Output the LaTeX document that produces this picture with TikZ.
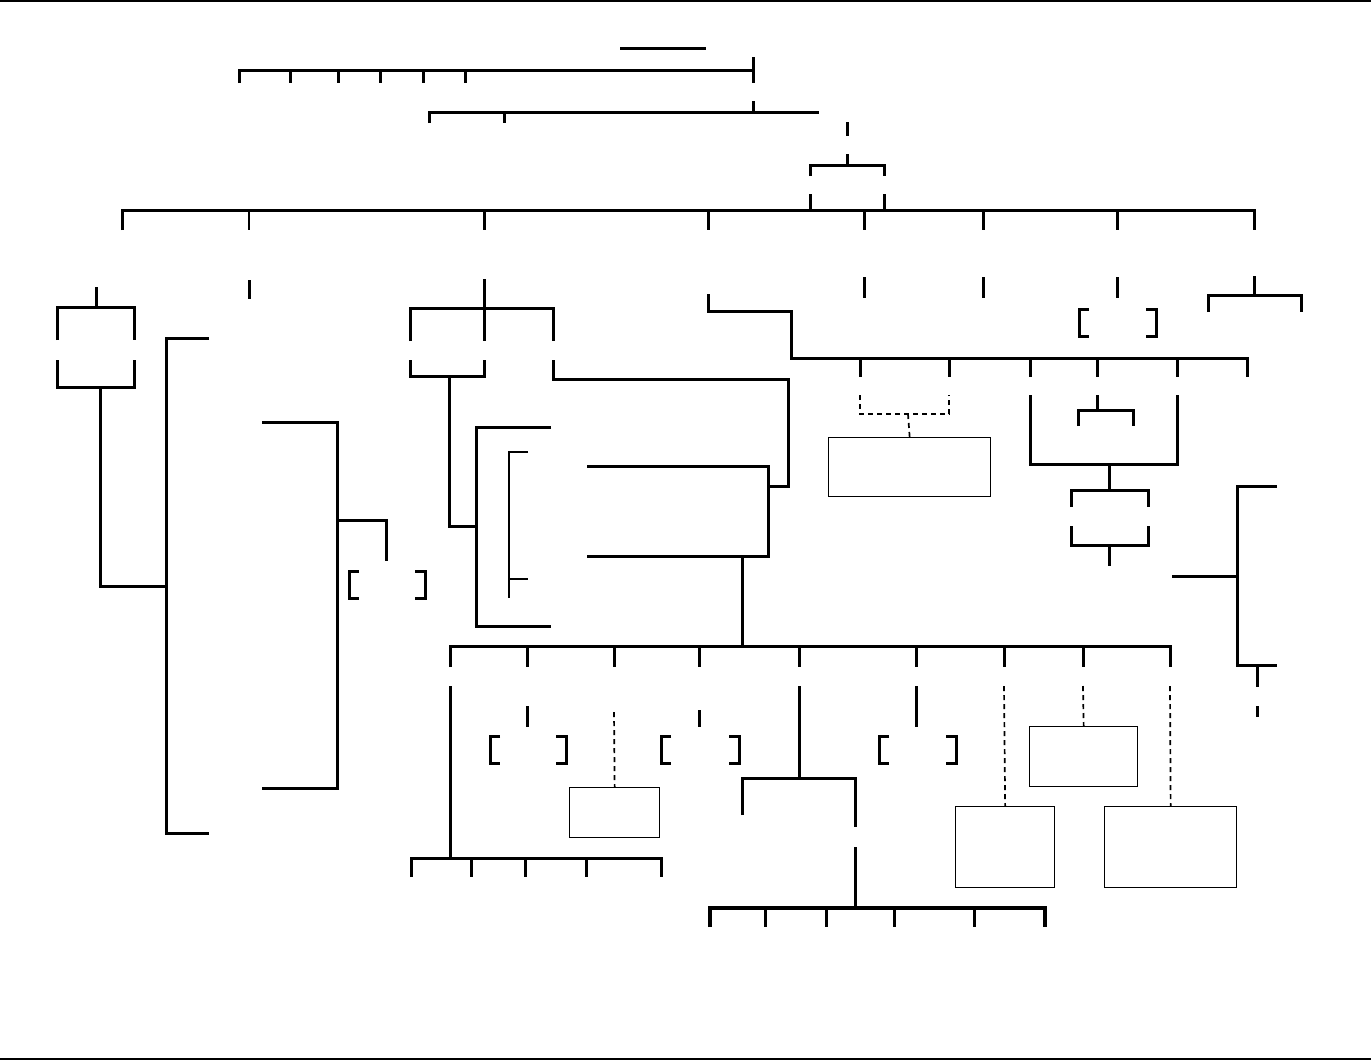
\documentclass[tikz,border=0pt]{standalone}
\usetikzlibrary{positioning}

\begin{document}
\begin{tikzpicture}[x=1pt, y=-1pt,
  tree/.style={line width=3pt},
  faint/.style={line width=1.2pt},
  link/.style={line width=1.7pt, dash pattern=on 5pt off 4pt},
  blank/.style={draw, line width=1.3pt, inner sep=0pt, anchor=north west}]
\def\bh{27}
\def\bt{10}
\useasboundingbox (0,0) rectangle (1371,1061);

% frame rules
\draw[faint] (0,1) -- (1371,1);
\draw[faint] (0,1059) -- (1371,1059);

% top generations
\draw[tree] (620,48) -- (706,48);
\draw[tree] (239,83) |- (753,70);
\foreach \x in {290,338,380,423,465} \draw[tree] (\x,70) -- (\x,83);
\draw[tree] (753,57) -- (753,83);
\draw[tree] (429,123) |- (819,112);
\draw[tree] (504,112) -- (504,123);
\draw[tree] (753,101) -- (753,112);
\draw[tree] (847,122) -- (847,136);
\draw[tree] (847,154) -- (847,165);
\draw[tree] (810,176) |- (884,165) -- (884,176);
\draw[tree] (810,194) -- (810,210);
\draw[tree] (884,194) -- (884,210);

% main line
\draw[tree] (122,230) |- (1254,210) -- (1254,230);
\foreach \x in {484,708,864,983,1117} \draw[tree] (\x,210) -- (\x,230);
\draw[faint] (249,210) -- (249,230);

% brackets
\foreach \l/\r/\t in {349/425/571, 1079/1156/309, 490/566/736, 661/739/736, 879/956/736} {
  \draw[tree] (\l+\bt,\t) -| (\l,\t+\bh) -- (\l+\bt,\t+\bh);
  \draw[tree] (\r-\bt,\t) -| (\r,\t+\bh) -- (\r-\bt,\t+\bh);
}

% left branch
\draw[tree] (96,287) -- (96,307);
\draw[tree] (57,340) |- (134,307) -- (134,340);
\draw[tree] (57,360) |- (134,387) -- (134,360);
\draw[tree] (100,387) |- (166,586);
\draw[tree] (209,338) -| (166,833) -- (209,833);
\draw[tree] (249,280) -- (249,299);
\draw[tree] (262,422) -| (337,788) -- (262,788);
\draw[tree] (337,520) -| (386,561);

% middle branch
\draw[tree] (484,279) -- (484,341);
\draw[tree] (410,341) |- (553,308) -- (553,341);
\draw[tree] (410,360) |- (484,376) -- (484,360);
\draw[tree] (449,376) |- (476,526);
\draw[tree] (553,360) |- (788,379) |- (768,486);
\draw[tree] (551,427) -| (476,626) -- (551,626);
\draw[faint] (528,452) -| (509,598);
\draw[faint] (509,579) -- (528,579);
\draw[tree] (587,466) -| (768,556) -- (587,556);
\draw[tree] (742,556) -- (742,646);

% right branch
\draw[tree] (708,294) |- (791,311) |- (1247,358) -- (1247,377);
\foreach \x in {860,949,1030,1097,1177} \draw[tree] (\x,358) -- (\x,377);
\foreach \x in {864,983,1117} \draw[tree] (\x,277) -- (\x,298);
\draw[tree] (1254,276) -- (1254,295);
\draw[tree] (1208,312) |- (1301,295) -- (1301,312);
\node[blank, minimum width=162pt, minimum height=59pt] (famA) at (828,437) {};
\draw[link] (860,395) |- (949,414) -- (949,395);
\draw[link] (908,414) -- (famA.north);
\draw[tree] (1030,395) |- (1177,464) -- (1177,395);
\draw[tree] (1097,395) -- (1097,410);
\draw[tree] (1078,426) |- (1133,410) -- (1133,426);
\draw[tree] (1109,464) -- (1109,490);
\draw[tree] (1071,507) |- (1148,490) -- (1148,507);
\draw[tree] (1071,526) |- (1148,545) -- (1148,526);
\draw[tree] (1109,545) -- (1109,566);
\draw[tree] (1277,486) -| (1237,665) -- (1277,665);
\draw[tree] (1172,576) -- (1237,576);
\draw[tree] (1257,665) -- (1257,687);
\draw[tree] (1257,706) -- (1257,717);

% lower generation
\draw[tree] (450,667) |- (1170,646) -- (1170,667);
\foreach \x in {527,614,699,799,916,1004,1083} \draw[tree] (\x,646) -- (\x,667);
\draw[tree] (450,686) -- (450,858);
\draw[tree] (411,877) |- (661,858) -- (661,877);
\foreach \x in {471,525,586} \draw[tree] (\x,858) -- (\x,877);
\draw[tree] (527,706) -- (527,727);
\draw[tree] (699,710) -- (699,727);
\draw[tree] (916,686) -- (916,727);
\node[blank, minimum width=90pt, minimum height=50pt] (famB) at (569,787) {};
\draw[link] (614,712) -- (famB.north);
\draw[tree] (799,686) -- (799,778);
\draw[tree] (742,815) |- (855,778) -- (855,827);
\draw[tree] (855,847) -- (855,908);
\draw[tree, line width=3.4pt] (710,927) |- (1045,908) -- (1045,927);
\foreach \x in {765,826,894,974} \draw[tree] (\x,908) -- (\x,927);
\node[blank, minimum width=99pt, minimum height=81pt] (famC) at (955,806) {};
\node[blank, minimum width=108pt, minimum height=60pt] (famD) at (1029,726) {};
\node[blank, minimum width=132pt, minimum height=81pt] (famE) at (1104,806) {};
\draw[link] (1004,686) -- (famC.north);
\draw[link] (1083,686) -- (famD.north);
\draw[link] (1170,686) -- (famE.north);
\end{tikzpicture}
\end{document}
